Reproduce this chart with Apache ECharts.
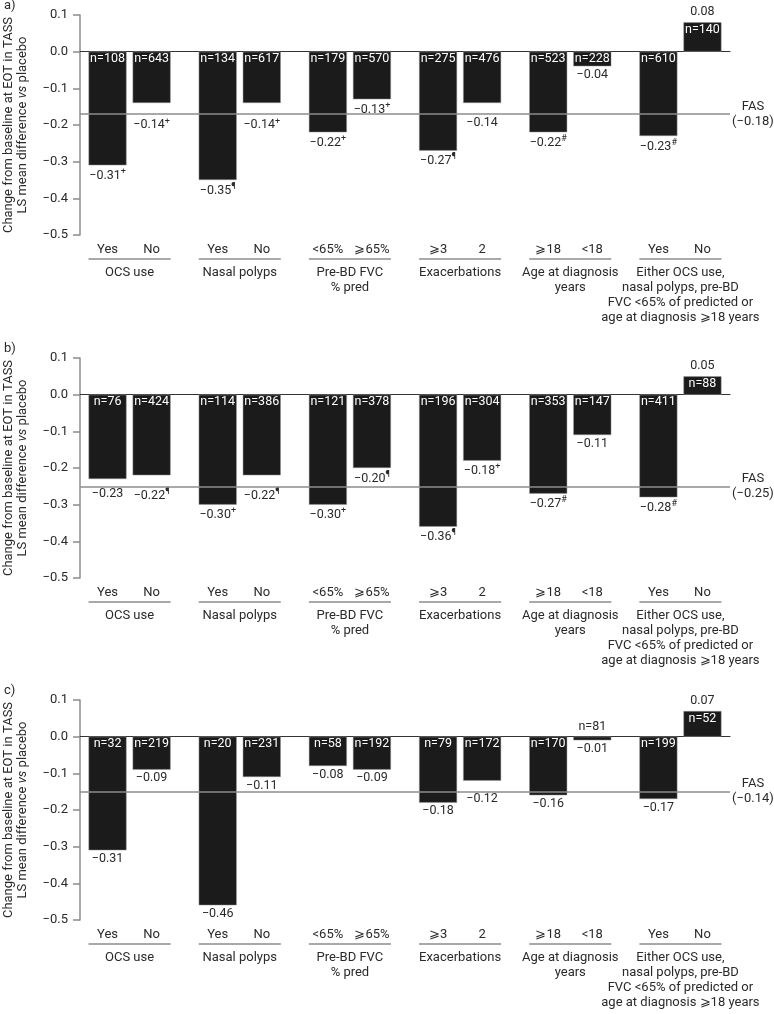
<!DOCTYPE html>
<html>
<head>
<meta charset="utf-8">
<script src="https://cdn.jsdelivr.net/npm/echarts@6/dist/echarts.min.js"></script>
<style>
  html, body { margin: 0; padding: 0; background: #fff; }
  #chart { width: 774px; height: 1014px; }
</style>
</head>
<body>
<div id="chart"></div>
<script>
// subgroup labels
const groupNames = [
  'OCS use',
  'Nasal polyps',
  'Pre-BD FVC\n% pred',
  'Exacerbations',
  'Age at diagnosis\nyears',
  'Either OCS use,\nnasal polyps, pre-BD\nFVC <65% of predicted or\nage at diagnosis \u2A7E18 years'
]
const subLabels = [
  ['Yes', 'No'], ['Yes', 'No'], ['<65%', '\u2A7E65%'],
  ['\u2A7E3', '2'], ['\u2A7E18', '<18'], ['Yes', 'No']
]
const panelLetters = ['a)', 'b)', 'c)']

// panel a
const nA = [108, 643, 134, 617, 179, 570, 275, 476, 523, 228, 610, 140]
const valA = [-0.31, -0.14, -0.35, -0.14, -0.22, -0.13, -0.27, -0.14, -0.22, -0.04, -0.23, 0.08]
const markA = ['+', '+', '\u00B6', '+', '+', '+', '\u00B6', '', '#', '', '#', '']
// panel b
const nB = [76, 424, 114, 386, 121, 378, 196, 304, 353, 147, 411, 88]
const valB = [-0.23, -0.22, -0.30, -0.22, -0.30, -0.20, -0.36, -0.18, -0.27, -0.11, -0.28, 0.05]
const markB = ['', '\u00B6', '+', '\u00B6', '+', '\u00B6', '\u00B6', '+', '#', '', '#', '']
// panel c
const nC = [32, 219, 20, 231, 58, 192, 79, 172, 170, 81, 199, 52]
const valC = [-0.31, -0.09, -0.46, -0.11, -0.08, -0.09, -0.18, -0.12, -0.16, -0.01, -0.17, 0.07]
const markC = ['', '', '', '', '', '', '', '', '', '', '', '']

// FAS reference line (drawn position) and its printed value
const fasLine = [-0.175, -0.25, -0.15]
const fasText = ['\u22120.18', '\u22120.25', '\u22120.14']

// y axis ticks
const yMin = -0.5
const yMax = 0.1
const yStep = 0.1

const panels = [
  { n: nA, val: valA, mark: markA },
  { n: nB, val: valB, mark: markB },
  { n: nC, val: valC, mark: markC }
]

const FONT = 'Roboto'
const FS = 13
const FS_BAR = 12.5
const TXT = '#2a2a2a'
const GREY = '#8c8c8c'
const BAR = '#1b1b1b'
const tops = [15, 358, 700]
const plotH = 220
const pxPerUnit = plotH / (yMax - yMin)
const barW = 38

const minus = s => String(s).replace('-', '\u2212')
// x position of bar i: pairs, groups 2.5 units apart
const xPos = i => Math.floor(i / 2) * 2.5 + (i % 2)

const grid = [], xAxis = [], yAxis = [], series = [], graphic = []

panels.forEach((p, pi) => {
  grid.push({ left: 80, right: 44, top: tops[pi], height: plotH, outerBoundsMode: 'none', containLabel: false })
  xAxis.push({
    type: 'value', gridIndex: pi, min: -0.625, max: 14.125,
    axisLine: { show: true, onZero: true, lineStyle: { color: '#333', width: 1 } },
    axisTick: { show: false }, axisLabel: { show: false }, splitLine: { show: false }
  })
  yAxis.push({
    type: 'value', gridIndex: pi, min: yMin, max: yMax, interval: yStep,
    axisLine: { show: true, onZero: false, lineStyle: { color: GREY, width: 1.5 } },
    axisTick: { show: true, length: 7, lineStyle: { color: GREY, width: 1.5 } },
    splitLine: { show: false },
    axisLabel: {
      margin: 12, color: TXT, fontSize: FS, fontFamily: FONT,
      formatter: v => minus(v.toFixed(1))
    },
    name: '{t|Change from baseline at EOT in TASS}\n{t|LS mean difference }{i|vs}{t| placebo}',
    nameLocation: 'middle', nameRotate: 90, nameGap: 50,
    nameTextStyle: {
      rich: {
        t: { fontSize: FS, fontFamily: FONT, color: TXT, lineHeight: 14 },
        i: { fontSize: FS, fontFamily: FONT, color: TXT, lineHeight: 14, fontStyle: 'italic' }
      }
    }
  })

  const fas = fasLine[pi]

  // bars with n labels
  series.push({
    type: 'bar', xAxisIndex: pi, yAxisIndex: pi, barWidth: barW, barGap: '-100%',
    itemStyle: { color: BAR, borderColor: '#9a9a9a', borderWidth: 0.5 },
    data: p.val.map((v, i) => {
      const small = Math.abs(v) < 0.03
      return {
        value: [xPos(i), v],
        label: small
          ? { show: true, position: 'top', distance: 3, color: TXT, formatter: 'n=' + p.n[i] }
          : { show: true, position: 'insideTop', distance: 1, color: '#fff', formatter: 'n=' + p.n[i] }
      }
    }),
    label: { fontSize: FS_BAR, fontFamily: FONT },
    markLine: {
      silent: true, symbol: ['none', 'none'],
      lineStyle: { color: GREY, width: 1.5, type: 'solid' },
      label: {
        show: true, position: 'end', distance: 2,
        formatter: '{a|FAS}\n{a|(' + fasText[pi] + ')}',
        rich: { a: { width: 42, align: 'center', fontSize: FS, lineHeight: 15, fontFamily: FONT, color: TXT } }
      },
      data: [{ yAxis: fas }]
    }
  })

  // transparent overlay carrying the value labels
  series.push({
    type: 'bar', xAxisIndex: pi, yAxisIndex: pi, barWidth: barW, barGap: '-100%',
    itemStyle: { color: 'rgba(0,0,0,0)' },
    data: p.val.map((v, i) => {
      let pos = 'bottom', dist = 2
      if (v > 0) { pos = 'top'; dist = 4 }
      else if (v > fas && (v - fas) < 0.038) dist = (v - fas) * pxPerUnit + 1
      const txt = minus(v.toFixed(2))
      return {
        value: [xPos(i), v],
        label: {
          show: true, position: pos, distance: dist,
          formatter: p.mark[i] ? '{v|' + txt + '}{s|' + p.mark[i] + '}' : '{v|' + txt + '}'
        }
      }
    }),
    label: {
      rich: {
        v: { fontSize: FS_BAR, fontFamily: FONT, color: TXT },
        s: { fontSize: 9, fontFamily: FONT, color: TXT, padding: [0, 0, 8, 0] }
      }
    }
  })

  // subgroup / group labels under the plot
  series.push({
    type: 'custom', xAxisIndex: pi, yAxisIndex: pi, silent: true, clip: false,
    data: groupNames.map((_, g) => [g]),
    renderItem: (params, api) => {
      const g = api.value(0)
      const p1 = api.coord([g * 2.5, yMin])
      const p2 = api.coord([g * 2.5 + 1, yMin])
      const ts = { fontSize: FS, fontFamily: FONT, fill: TXT, align: 'center' }
      return {
        type: 'group',
        children: [
          { type: 'text', style: Object.assign({ text: subLabels[g][0], x: p1[0], y: p1[1] + 15, verticalAlign: 'middle' }, ts) },
          { type: 'text', style: Object.assign({ text: subLabels[g][1], x: p2[0], y: p2[1] + 15, verticalAlign: 'middle' }, ts) },
          { type: 'line', shape: { x1: p1[0] - barW / 2, y1: p1[1] + 24, x2: p2[0] + barW / 2, y2: p2[1] + 24 },
            style: { stroke: GREY, lineWidth: 1.5 } },
          { type: 'text', style: Object.assign({ text: groupNames[g], x: (p1[0] + p2[0]) / 2, y: p1[1] + 30,
            verticalAlign: 'top', lineHeight: 15 }, ts) }
        ]
      }
    }
  })

  graphic.push({
    type: 'text', left: 4, top: tops[pi] - 16,
    style: { text: panelLetters[pi], fontSize: FS, fontFamily: FONT, fill: TXT }
  })
})

const chart = echarts.init(document.getElementById('chart'))
chart.setOption({
  animation: false,
  backgroundColor: '#fff',
  textStyle: { fontFamily: FONT },
  grid, xAxis, yAxis, series, graphic
})
</script>
</body>
</html>
